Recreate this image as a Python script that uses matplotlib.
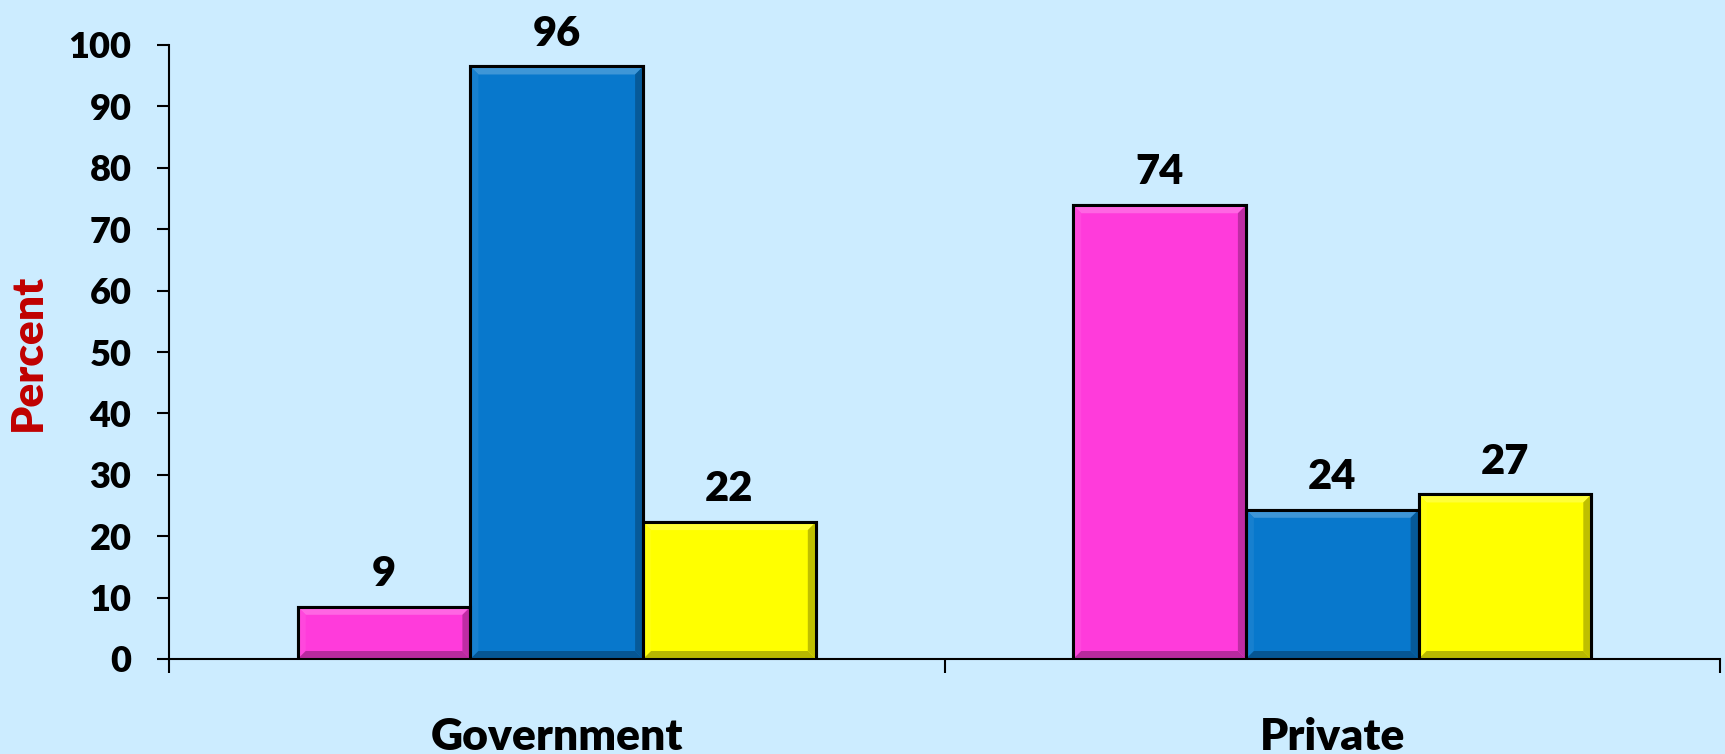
import matplotlib
matplotlib.use("Agg")
import matplotlib.pyplot as plt
from matplotlib.patches import Polygon
import matplotlib.colors as mcolors
import numpy as np

categories = ["Government", "Private"]
series_names = ["Series 1", "Series 2", "Series 3"]
values = [
    [8.5, 73.9],   # pink
    [96.5, 24.3],  # blue
    [22.3, 26.8],  # yellow
]
labels = [
    ["9", "74"],
    ["96", "24"],
    ["22", "27"],
]
colors = ["#FF3BDB", "#0878CC", "#FFFF00"]
bg = "#CCECFF"
yticks = list(range(0, 101, 10))

plt.rcParams['font.family'] = ['Lato', 'DejaVu Sans']
FW = "heavy"

W, H = 1725, 754
fig = plt.figure(figsize=(W / 100, H / 100), dpi=100)
fig.patch.set_facecolor(bg)
ax = fig.add_axes([169 / W, 1 - 659 / H, (1720 - 169) / W, (659 - 45) / H])
ax.set_facecolor(bg)

x = np.arange(len(categories))
bw = 0.2227
ax.set_xlim(-0.5, len(categories) - 0.5)
ax.set_ylim(0, 100)

px_x = (1720 - 169) / len(categories)
px_y = (659 - 45) / 100.0
bev_x = 8 / px_x
bev_y = 8 / px_y


def mix(c, other, t):
    a = np.array(mcolors.to_rgb(c))
    b = np.array(mcolors.to_rgb(other))
    return tuple(a * (1 - t) + b * t)


for i, (vals, col) in enumerate(zip(values, colors)):
    xs = x + (i - 1) * bw
    bars = ax.bar(xs, vals, width=bw, color=col, edgecolor="black",
                  linewidth=2.2, zorder=3)
    for b, lab in zip(bars, labels[i]):
        x0 = b.get_x()
        x1 = x0 + b.get_width()
        y1 = b.get_height()
        y0 = 0
        by = min(bev_y, y1 / 3)
        ax.add_patch(Polygon([[x0, y1], [x1, y1], [x1 - bev_x, y1 - by], [x0 + bev_x, y1 - by]],
                             closed=True, facecolor=mix(col, "white", 0.22), edgecolor="none", zorder=4))
        ax.add_patch(Polygon([[x0, y0], [x0, y1], [x0 + bev_x, y1 - by], [x0 + bev_x, y0 + by]],
                             closed=True, facecolor=mix(col, "white", 0.06), edgecolor="none", zorder=4))
        ax.add_patch(Polygon([[x1, y0], [x1, y1], [x1 - bev_x, y1 - by], [x1 - bev_x, y0 + by]],
                             closed=True, facecolor=mix(col, "black", 0.25), edgecolor="none", zorder=4))
        ax.add_patch(Polygon([[x0, y0], [x1, y0], [x1 - bev_x, y0 + by], [x0 + bev_x, y0 + by]],
                             closed=True, facecolor=mix(col, "black", 0.28), edgecolor="none", zorder=4))
        ax.add_patch(plt.Rectangle((x0, y0), x1 - x0, y1, facecolor="none",
                                   edgecolor="black", linewidth=2.2, zorder=5))
        ax.annotate(lab, (b.get_x() + b.get_width() / 2, y1), xytext=(0, 10),
                    textcoords="offset points", ha="center", va="bottom",
                    fontsize=30, fontweight=FW, color="black", zorder=6)

ax.spines["top"].set_visible(False)
ax.spines["right"].set_visible(False)
ax.spines["left"].set_linewidth(1.5)
ax.spines["bottom"].set_linewidth(1.5)

ax.set_yticks(yticks)
ax.set_yticklabels([str(v) for v in yticks])
ax.tick_params(axis="y", direction="out", length=9, width=1.5, pad=18,
               labelsize=26)
for t in ax.get_yticklabels():
    t.set_fontweight(FW)

ax.set_xticks(x)
ax.set_xticklabels(categories)
ax.tick_params(axis="x", which="major", length=0, pad=42, labelsize=32)
for t in ax.get_xticklabels():
    t.set_fontweight(FW)
ax.set_xticks(np.arange(-0.5, len(categories), 1.0), minor=True)
ax.tick_params(axis="x", which="minor", direction="out", length=10, width=1.5)

fig.text(28 / W, 1 - 352 / H, "Percent", rotation=90, ha="center", va="center",
         fontsize=32, fontweight=FW, color="#C00000")

fig.savefig("out.png", dpi=100, facecolor=bg)
